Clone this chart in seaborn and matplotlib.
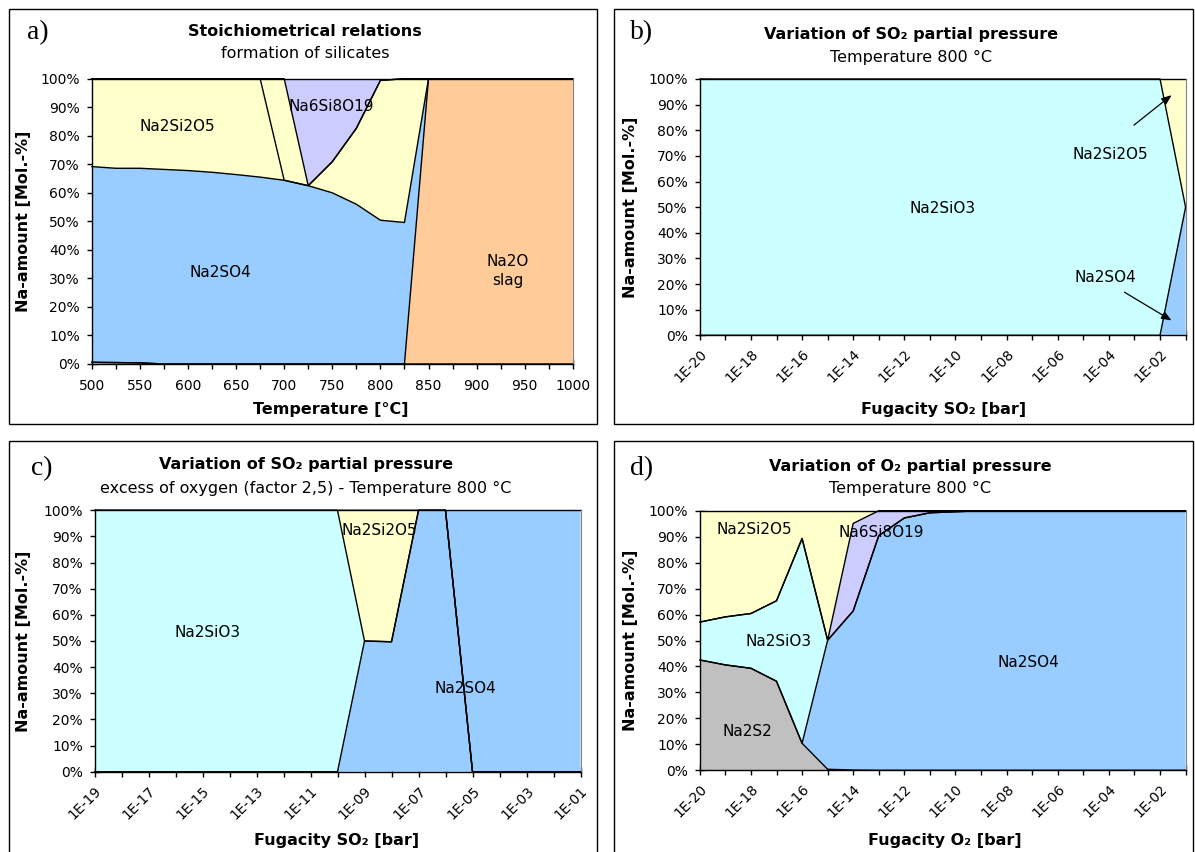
import numpy as np
import matplotlib
matplotlib.use("Agg")
import matplotlib.pyplot as plt
from matplotlib.patches import Rectangle
import seaborn as sns

sns.set_theme(style="white")
plt.rcParams["font.family"] = ["DejaVu Sans"]
plt.rcParams["text.color"] = "black"
plt.rcParams["axes.labelcolor"] = "black"
plt.rcParams["xtick.color"] = "black"
plt.rcParams["ytick.color"] = "black"

W, H = 1195, 852

# phase colours
C_SO4 = "#99CCFF"
C_SIO3 = "#CCFFFF"
C_SI2O5 = "#FFFFCC"
C_SI8 = "#CCCCFF"
C_SLAG = "#FFCC99"
C_S2 = "#C0C0C0"

y_ticks = [0, 10, 20, 30, 40, 50, 60, 70, 80, 90, 100]

# ---- a) stoichiometrical relations vs temperature
temps_a = [500, 525, 550, 575, 600, 625, 650, 675, 700, 725, 750,
           775, 800, 825, 850, 875, 900, 925, 950, 975, 1000]
na2s2_a = [0.6, 0.5, 0.4, 0, 0, 0, 0, 0, 0, 0, 0, 0, 0, 0, 0, 0, 0, 0, 0, 0, 0]
slag_a = [0, 0, 0, 0, 0, 0, 0, 0, 0, 0, 0, 0, 0, 0, 100, 100, 100, 100, 100, 100, 100]
na2so4_a = [68.6, 68.1, 68.2, 68.2, 67.8, 67.2, 66.4, 65.5, 64.4, 62.5, 60.0,
            56.0, 50.4, 49.6, 0, 0, 0, 0, 0, 0, 0]
na2si2o5_a = [30.8, 31.4, 31.4, 31.8, 32.2, 32.8, 33.6, 34.5, 0, 0, 10.9,
              26.6, 49.0, 50.4, 0, 0, 0, 0, 0, 0, 0]
na2si2o5_a2 = [0, 0, 0, 0, 0, 0, 0, 0, 35.6, 0, 0, 0, 0, 0, 0, 0, 0, 0, 0, 0, 0]
na6si8o19_a = [0, 0, 0, 0, 0, 0, 0, 0, 0, 37.5, 29.1, 17.4, 0.6, 0, 0, 0, 0, 0, 0, 0, 0]

# ---- b) SO2 fugacity at 800 °C
fug_b = ["1E-20", "1E-19", "1E-18", "1E-17", "1E-16", "1E-15", "1E-14",
         "1E-13", "1E-12", "1E-11", "1E-10", "1E-09", "1E-08", "1E-07",
         "1E-06", "1E-05", "1E-04", "1E-03", "1E-02", "1E-01"]
na2so4_b = [0, 0, 0, 0, 0, 0, 0, 0, 0, 0, 0, 0, 0, 0, 0, 0, 0, 0, 0, 50]
na2sio3_b = [100, 100, 100, 100, 100, 100, 100, 100, 100, 100, 100, 100,
             100, 100, 100, 100, 100, 100, 100, 0]
na2si2o5_b = [0, 0, 0, 0, 0, 0, 0, 0, 0, 0, 0, 0, 0, 0, 0, 0, 0, 0, 0, 50]

# ---- c) SO2 fugacity, excess of oxygen
fug_c = ["1E-19", "1E-18", "1E-17", "1E-16", "1E-15", "1E-14", "1E-13",
         "1E-12", "1E-11", "1E-10", "1E-09", "1E-08", "1E-07", "1E-06",
         "1E-05", "1E-04", "1E-03", "1E-02", "1E-01"]
na2so4_c = [0, 0, 0, 0, 0, 0, 0, 0, 0, 0, 50, 49.7, 100, 100, 0, 0, 0, 0, 0]
na2sio3_c = [100, 100, 100, 100, 100, 100, 100, 100, 100, 100, 0, 0, 0, 0, 0, 0, 0, 0, 0]
na2si2o5_c = [0, 0, 0, 0, 0, 0, 0, 0, 0, 0, 50, 50.3, 0, 0, 0, 0, 0, 0, 0]
na2so4_c2 = [0, 0, 0, 0, 0, 0, 0, 0, 0, 0, 0, 0, 0, 0, 100, 100, 100, 100, 100]

# ---- d) O2 fugacity at 800 °C
fug_d = fug_b
na2s2_d = [42.5, 40.6, 39.3, 34.3, 10.4, 0.4, 0.1, 0, 0, 0, 0, 0, 0, 0, 0, 0, 0, 0, 0, 0]
na2so4_d = [0, 0, 0, 0, 0, 49.7, 61.3, 90.4, 97.2, 99.2, 99.6, 100, 100,
            100, 100, 100, 100, 100, 100, 100]
na2sio3_d = [14.6, 18.5, 21.1, 31.0, 78.9, 0, 0, 0, 0, 0, 0, 0, 0, 0, 0, 0, 0, 0, 0, 0]
na6si8o19_d = [0, 0, 0, 0, 0, 0, 33.7, 9.6, 2.8, 0.8, 0.4, 0, 0, 0, 0, 0, 0, 0, 0, 0]
na2si2o5_d = [42.9, 40.9, 39.6, 34.7, 10.7, 49.9, 4.9, 0, 0, 0, 0, 0, 0, 0, 0, 0, 0, 0, 0, 0]


def fx(px):
    return px / W


def fy(py):
    return 1 - py / H


def add_axes(x0, y0, x1, y1):
    return fig.add_axes([fx(x0), fy(y1), fx(x1) - fx(x0), (y1 - y0) / H])


def stacked(ax, x, layers):
    """Draw a 100 % stacked area chart with outlined series."""
    x = np.asarray(x, float)
    base = np.zeros(len(x))
    tops = []
    for vals, color in layers:
        top = base + np.asarray(vals, float)
        ax.fill_between(x, base, top, facecolor=color, edgecolor="none", linewidth=0)
        tops.append(top)
        base = top
    for top in tops:
        sns.lineplot(x=x, y=top, ax=ax, color="black", linewidth=1.0,
                     legend=False, sort=False)
    for ln in ax.get_lines():
        ln.set_clip_on(False)
    ax.set_xlabel("")
    ax.set_ylabel("")


def style(ax, xlim):
    ax.set_xlim(*xlim)
    ax.set_ylim(0, 100)
    ax.set_yticks(y_ticks)
    ax.set_yticklabels([f"{v}%" for v in y_ticks])
    ax.spines["top"].set_visible(False)
    ax.spines["right"].set_color("#808080")
    ax.spines["right"].set_linewidth(0.8)
    for s in ["left", "bottom"]:
        ax.spines[s].set_color("black")
        ax.spines[s].set_linewidth(1.0)
        ax.spines[s].set_zorder(5)
    ax.tick_params(axis="both", which="both", direction="inout", length=7,
                   width=1, color="black", labelcolor="black", labelsize=10,
                   bottom=True, left=True)
    ax.tick_params(axis="y", pad=5)
    ax.grid(False)


def category_ticks(ax, labels):
    ax.set_xticks(range(len(labels)))
    ax.set_xticklabels([lab if i % 2 == 0 else "" for i, lab in enumerate(labels)],
                       rotation=45, ha="right", va="top", rotation_mode="anchor")
    ax.tick_params(axis="x", pad=5)


def panel_text(letter, lx, ly, title, tx, ty, subtitle, sy, xlabel, xlx, xly, ylx, yly):
    fig.text(fx(lx), fy(ly), letter, family=["Liberation Serif"], fontsize=20,
             ha="center", va="center", color="black")
    fig.text(fx(tx), fy(ty), title, fontsize=11.5, fontweight="bold",
             ha="center", va="center", color="black")
    fig.text(fx(tx), fy(sy), subtitle, fontsize=11.5, ha="center", va="center",
             color="black")
    fig.text(fx(xlx), fy(xly), xlabel, fontsize=11.5, fontweight="bold",
             ha="center", va="center", color="black")
    fig.text(fx(ylx), fy(yly), "Na-amount [Mol.-%]", fontsize=11.5,
             fontweight="bold", rotation=90, ha="center", va="center", color="black")


def label(ax, x, y, s):
    ax.text(x, y, s, fontsize=11, ha="center", va="center", color="black",
            linespacing=1.35)


fig = plt.figure(figsize=(W / 100, H / 100), dpi=100)
fig.patch.set_facecolor("white")

# panel frames
for (x0, y0, x1, y1) in [(9, 9, 597, 424), (614, 9, 1193, 424),
                         (9, 441, 597, 870), (614, 441, 1193, 870)]:
    fig.add_artist(Rectangle((fx(x0), fy(y1)), fx(x1) - fx(x0), (y1 - y0) / H,
                             transform=fig.transFigure, fill=False,
                             edgecolor="black", linewidth=1.0))

# ---- a)
ax_a = add_axes(91.8, 78.7, 572.8, 364)
stacked(ax_a, temps_a, [(na2s2_a, C_S2), (slag_a, C_SLAG), (na2so4_a, C_SO4),
                        (na2si2o5_a, C_SI2O5), (na2si2o5_a2, C_SI2O5),
                        (na6si8o19_a, C_SI8)])
style(ax_a, (500, 1000))
ax_a.set_xticks(temps_a)
ax_a.set_xticklabels([str(t) if t % 50 == 0 else "" for t in temps_a])
ax_a.tick_params(axis="x", pad=7)
label(ax_a, 589, 83.4, "Na2Si2O5")
label(ax_a, 749, 90.4, "Na6Si8O19")
label(ax_a, 634, 31.9, "Na2SO4")
label(ax_a, 932, 32.6, "Na2O\nslag")
panel_text("a)", 38, 33, "Stoichiometrical relations", 305, 32,
           "formation of silicates", 53, "Temperature [°C]", 331, 410, 24, 221)

# ---- b)
ax_b = add_axes(699.8, 79, 1185.6, 335.3)
stacked(ax_b, range(len(fug_b)), [(na2so4_b, C_SO4), (na2sio3_b, C_SIO3),
                                  (na2si2o5_b, C_SI2O5)])
style(ax_b, (0, len(fug_b) - 1))
category_ticks(ax_b, fug_b)
label(ax_b, 9.5, 49.3, "Na2SiO3")
label(ax_b, 16.04, 70.7, "Na2Si2O5")
label(ax_b, 15.87, 22.7, "Na2SO4")
arrow = dict(arrowstyle="-|>,head_length=0.5,head_width=0.2", color="black", lw=0.9,
             shrinkA=0, shrinkB=0)
ax_b.annotate("", xy=(18.45, 93.7), xytext=(16.98, 82.0), arrowprops=arrow)
ax_b.annotate("", xy=(18.45, 5.8), xytext=(16.61, 16.8), arrowprops=arrow)
panel_text("b)", 642, 33, "Variation of SO₂ partial pressure", 911, 34,
           "Temperature 800 °C", 57, "Fugacity SO₂ [bar]", 944, 410, 630, 207)

# ---- c)
ax_c = add_axes(94.5, 510.3, 580.5, 771.7)
stacked(ax_c, range(len(fug_c)), [(na2so4_c, C_SO4), (na2sio3_c, C_SIO3),
                                  (na2si2o5_c, C_SI2O5), (na2so4_c2, C_SO4)])
style(ax_c, (0, len(fug_c) - 1))
category_ticks(ax_c, fug_c)
label(ax_c, 4.17, 53.4, "Na2SiO3")
label(ax_c, 10.54, 92.3, "Na2Si2O5")
label(ax_c, 13.72, 32.0, "Na2SO4")
panel_text("c)", 42, 469, "Variation of SO₂ partial pressure", 306, 464,
           "excess of oxygen (factor 2,5) - Temperature 800 °C", 488,
           "Fugacity SO₂ [bar]", 337, 841, 24, 641)

# ---- d)
ax_d = add_axes(699.8, 510.7, 1185.6, 770.3)
stacked(ax_d, range(len(fug_d)), [(na2s2_d, C_S2), (na2so4_d, C_SO4),
                                  (na2sio3_d, C_SIO3), (na6si8o19_d, C_SI8),
                                  (na2si2o5_d, C_SI2O5)])
style(ax_d, (0, len(fug_d) - 1))
category_ticks(ax_d, fug_d)
label(ax_d, 2.15, 92.8, "Na2Si2O5")
label(ax_d, 7.1, 91.6, "Na6Si8O19")
label(ax_d, 3.09, 49.8, "Na2SiO3")
label(ax_d, 12.87, 41.7, "Na2SO4")
label(ax_d, 1.85, 15.1, "Na2S2")
panel_text("d)", 642, 469, "Variation of O₂ partial pressure", 910, 467,
           "Temperature 800 °C", 488, "Fugacity O₂ [bar]", 945, 841, 630, 640)

fig.savefig("out.png", dpi=100, facecolor="white")
